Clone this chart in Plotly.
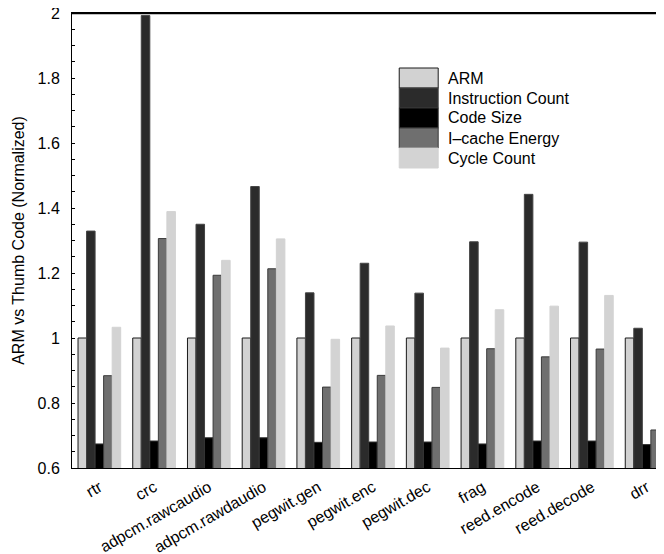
import plotly.graph_objects as go

benchmarks = ["rtr", "crc", "adpcm.rawcaudio", "adpcm.rawdaudio", "pegwit.gen",
              "pegwit.enc", "pegwit.dec", "frag", "reed.encode", "reed.decode", "drr"]
arm = [1.0] * 11
instruction_count = [1.329, 1.992, 1.350, 1.466, 1.139, 1.230, 1.138, 1.296, 1.442, 1.295, 1.030]
code_size = [0.674, 0.683, 0.693, 0.693, 0.679, 0.680, 0.680, 0.674, 0.683, 0.683, 0.672]
icache_energy = [0.884, 1.306, 1.193, 1.213, 0.849, 0.885, 0.848, 0.967, 0.942, 0.966, 0.717]
cycle_count = [1.033, 1.389, 1.239, 1.305, 0.996, 1.037, 0.969, 1.087, 1.098, 1.131, 0.825]

y_ticks = [0.6, 0.8, 1.0, 1.2, 1.4, 1.6, 1.8, 2.0]
y_tick_text = ["0.6", "0.8", "1", "1.2", "1.4", "1.6", "1.8", "2"]

series = [
    ("ARM", arm, "#d2d2d2", "#1a1a1a"),
    ("Instruction Count", instruction_count, "#2b2b2b", "#444444"),
    ("Code Size", code_size, "#000000", "#333333"),
    ("I\u2013cache Energy", icache_energy, "#6f6f6f", "#3a3a3a"),
    ("Cycle Count", cycle_count, "#d3d3d3", "#d3d3d3"),
]

# page has an 8px body margin: lay out in page pixels, then shift
OFF = 8
W, H = 664 - OFF, 554 - OFF
PLOT_L, PLOT_T, PLOT_B = 71.5, 13, 468   # page pixels from reference
L = PLOT_L - OFF
T = PLOT_T - OFF
B = H - (PLOT_B - OFF)
R = 0
FONT = "Liberation Sans, Arial, sans-serif"

fig = go.Figure()
for name, vals, fill, edge in series:
    fig.add_trace(go.Bar(x=benchmarks, y=vals, name=name,
                         marker=dict(color=fill, line=dict(color=edge, width=1)),
                         showlegend=False))

cat_px = 54.77
x_hi = -0.5 + (W - L - R) / cat_px

fig.update_layout(
    width=W, height=H,
    margin=dict(l=L, r=R, t=T, b=B, pad=0, autoexpand=False),
    paper_bgcolor="white", plot_bgcolor="white",
    barmode="group", bargap=0.22, bargroupgap=0,
    font=dict(family=FONT, size=16, color="black"),
    xaxis=dict(range=[-0.5, x_hi], showline=True, linecolor="black", linewidth=1,
               mirror=True, ticks="", tickangle=-30, showgrid=False, automargin=False,
               tickfont=dict(size=16), ticklabelstandoff=3, ticklabeloverflow="allow"),
    yaxis=dict(range=[0.6, 2.0], showline=True, linecolor="black", linewidth=1,
               mirror=False, ticks="inside", ticklen=3, tickcolor="black",
               tickvals=y_ticks, ticktext=y_tick_text, showgrid=False,
               ticklabelstandoff=8, automargin=False, ticklabeloverflow="allow",
               minor=dict(dtick=0.05, tick0=0.6, ticks="inside", ticklen=3,
                          tickcolor="black", showgrid=False),
               title=dict(text="ARM vs Thumb Code (Normalized)", font=dict(size=16),
                          standoff=8),
               zeroline=False),
)

# top frame line, drawn just inside the plot top
fig.add_shape(type="line", xref="paper", yref="y", x0=0, x1=1, y0=1.998, y1=1.998,
              line=dict(color="black", width=1.2), layer="above")

# legend drawn as large swatches (reference page pixels converted to paper coords)
pw = W - L - R
ph = H - T - B
def px(x):
    return (x - OFF - L) / pw
def py(y):
    return (H - B - (y - OFF)) / ph

sw_x0, sw_x1, row0, row_h, txt_x = 399, 438, 68, 20, 446
for i, (name, vals, fill, edge) in enumerate(series):
    y0 = row0 + i * row_h
    fig.add_shape(type="rect", xref="paper", yref="paper",
                  x0=px(sw_x0), x1=px(sw_x1), y0=py(y0 + row_h), y1=py(y0),
                  fillcolor=fill,
                  line=dict(color=(edge if i < 4 else fill), width=1))
    fig.add_annotation(xref="paper", yref="paper", x=px(txt_x), y=py(y0 + row_h / 2),
                       text=name, showarrow=False, xanchor="left", yanchor="middle",
                       font=dict(size=16, color="black"))

fig.write_html("out.html")
